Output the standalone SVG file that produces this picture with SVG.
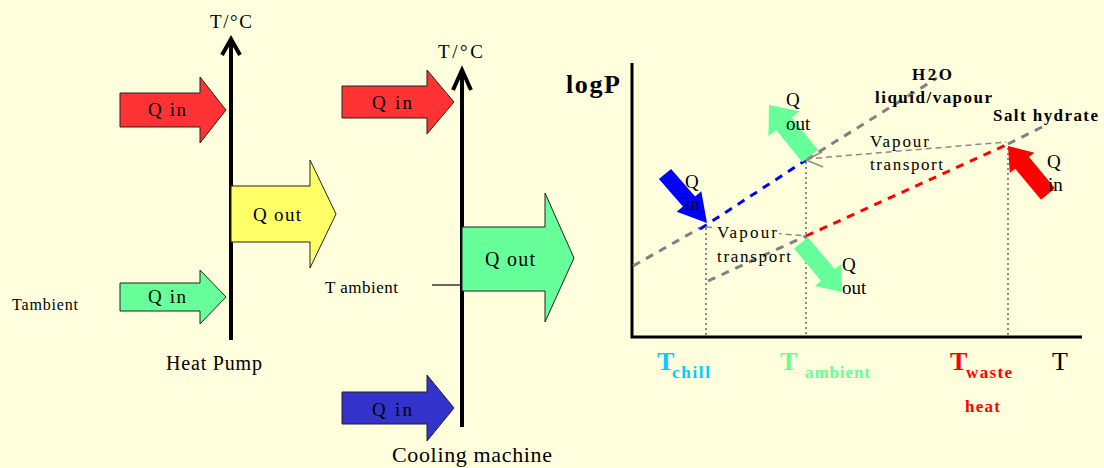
<svg xmlns="http://www.w3.org/2000/svg" width="1104" height="468" viewBox="0 0 1104 468">
<defs>
<style>
.t{font-family:"Liberation Serif","Times New Roman",serif;fill:#000}
.b{font-weight:bold}
.q{font-size:19px}
.ar{stroke:#222;stroke-width:1}
.axis{stroke:#000;stroke-width:4;fill:none}
.dot{stroke:#8a8a8a;stroke-width:2;stroke-dasharray:2 3;fill:none}
.dash{stroke-width:3;stroke-dasharray:8 7;fill:none}
.vap{stroke:#8a8a8a;stroke-width:1.5;stroke-dasharray:6 4;fill:none}
</style>
</defs>
<rect width="1104" height="468" fill="#FFFFDE"/>

<!-- Heat pump -->
<g id="hp-axis">
<line class="axis" x1="231" y1="39" x2="231" y2="340"/>
<polyline points="222,55 231,39 240,55" fill="none" stroke="#000" stroke-width="4"/>
<text class="t" x="210" y="28" font-size="19" textLength="42">T/°C</text>
</g>
<g id="hp-qin-red">
<polygon class="ar" points="120,93 200,93 200,77 226,110 200,143 200,127 120,127" fill="#FF3333"/>
<text class="t" x="148" y="116" font-size="19" textLength="38">Q in</text>
</g>
<g id="hp-qout-yellow">
<polygon class="ar" points="231,186 310,186 310,160 336,214 310,268 310,242 231,242" fill="#FFFF66"/>
<text class="t" x="253" y="221" font-size="19" textLength="48">Q out</text>
</g>
<g id="hp-qin-green">
<polygon class="ar" points="120,283 200,283 200,270 226,297 200,324 200,311 120,311" fill="#66FF99"/>
<text class="t" x="148" y="303" font-size="19" textLength="38">Q in</text>
</g>
<text class="t" x="12" y="310" font-size="16" textLength="66">Tambient</text>
<text class="t" x="166" y="370" font-size="20" textLength="96">Heat Pump</text>

<!-- Cooling machine -->
<g id="cm-axis">
<line class="axis" x1="462" y1="70" x2="462" y2="427"/>
<polyline points="453,90 462,70 471,90" fill="none" stroke="#000" stroke-width="4"/>
<text class="t" x="438" y="58" font-size="19" textLength="45">T/°C</text>
<line x1="432" y1="285" x2="462" y2="285" stroke="#000" stroke-width="1.2"/>
<text class="t" x="325" y="293" font-size="17" textLength="73">T ambient</text>
</g>
<g id="cm-qin-red">
<polygon class="ar" points="342,86 427,86 427,70 454,102 427,134 427,118 342,118" fill="#FF3333"/>
<text class="t" x="372" y="109" font-size="19" textLength="40">Q in</text>
</g>
<g id="cm-qout-green">
<polygon class="ar" points="462,227 545,227 545,193 574,258 545,322 545,291 462,291" fill="#66FF99"/>
<text class="t" x="485" y="266" font-size="20" textLength="50">Q out</text>
</g>
<g id="cm-qin-blue">
<polygon class="ar" points="342,392 427,392 427,375 454,408 427,441 427,424 342,424" fill="#3333CC"/>
<text class="t" x="372" y="416" font-size="19" textLength="40">Q in</text>
</g>
<text class="t" x="392" y="462" font-size="22" textLength="160">Cooling machine</text>

<!-- logP chart -->
<g id="chart-axes">
<polyline points="632,63 632,337 1082,337" fill="none" stroke="#000" stroke-width="3"/>
<text class="t b" x="566" y="93" font-size="26" textLength="54">logP</text>
</g>
<g id="connectors">
<line class="dot" x1="706" y1="228" x2="706" y2="335"/>
<line class="dot" x1="806" y1="162" x2="806" y2="335"/>
<line class="dot" x1="1008" y1="148" x2="1008" y2="335"/>
<line class="dash" x1="633" y1="266" x2="700" y2="228" stroke="#808080"/>
<line class="dash" x1="700" y1="229" x2="806" y2="160" stroke="#0000FF"/>
<line class="dash" x1="806" y1="160" x2="937" y2="78" stroke="#808080"/>
<line class="dash" x1="708" y1="281" x2="806" y2="236" stroke="#808080"/>
<line class="dash" x1="806" y1="236" x2="1006" y2="145" stroke="#FF0000"/>
<line class="dash" x1="1008" y1="144" x2="1042" y2="127" stroke="#808080"/>
<line class="vap" x1="706" y1="227" x2="806" y2="236"/>
<line class="vap" x1="806" y1="159" x2="1006" y2="142"/>
<polyline points="822,152 806,160 823,167" fill="none" stroke="#8a8a8a" stroke-width="1.5"/>
</g>
<g id="vap-low">
<rect x="715" y="223" width="64" height="18" fill="#FFFFDE"/>
<text class="t" x="717" y="238" font-size="17" textLength="60">Vapour</text>
<text class="t" x="717" y="262" font-size="17" textLength="74">transport</text>
</g>
<g id="vap-high">
<text class="t" x="870" y="147" font-size="17" textLength="59">Vapour</text>
<text class="t" x="870" y="170" font-size="17" textLength="73">transport</text>
</g>
<g id="h2o-label">
<text class="t b" x="912" y="80" font-size="17" textLength="40">H2O</text>
<text class="t b" x="875" y="103" font-size="17" textLength="117">liquid/vapour</text>
</g>
<text class="t b" x="993" y="121" font-size="17" textLength="105">Salt hydrate</text>

<g id="q-in-blue">
<polygon points="671.1,168.9 695.1,196.4 701.3,191.2 707,223 676.7,211.8 682.9,206.6 658.9,179.1" fill="#0000FF"/>
<text class="t q" x="685" y="188">Q</text>
<text class="t q" x="685" y="210">in</text>
</g>
<g id="q-out-top">
<polygon points="817.8,149.7 791.8,117.4 799.6,111.2 769,105 768.4,136.2 776.2,130 802.2,162.3" fill="#66FF99"/>
<text class="t q" x="786" y="106">Q</text>
<text class="t q" x="786" y="130">out</text>
</g>
<g id="q-out-low">
<polygon points="807.9,237.2 834.8,269.3 840.9,264.2 842,292 814.9,286 821,280.9 794.1,248.8" fill="#66FF99"/>
<text class="t q" x="842" y="271">Q</text>
<text class="t q" x="842" y="294">out</text>
</g>
<g id="q-in-red">
<polygon points="1054.9,188.2 1029,157.1 1034.4,152.7 1008,146 1009.8,173.1 1015.2,168.7 1041.1,199.8" fill="#FF0000"/>
<text class="t q" x="1047" y="168">Q</text>
<text class="t q" x="1048" y="191">in</text>
</g>

<g id="x-labels">
<text class="t b" x="657" y="370" font-size="26" style="fill:#00CCFF">T</text>
<text class="t b" x="672" y="378" font-size="17" textLength="38" style="fill:#00CCFF">chill</text>
<text class="t b" x="780" y="370" font-size="26" style="fill:#66FF99">T</text>
<text class="t b" x="805" y="378" font-size="17" textLength="65" style="fill:#66FF99">ambient</text>
<text class="t b" x="950" y="370" font-size="26" style="fill:#FF0000">T</text>
<text class="t b" x="966" y="378" font-size="17" textLength="46" style="fill:#FF0000">waste</text>
<text class="t b" x="965" y="412" font-size="17" textLength="35" style="fill:#FF0000">heat</text>
<text class="t" x="1052" y="370" font-size="26">T</text>
</g>
</svg>
